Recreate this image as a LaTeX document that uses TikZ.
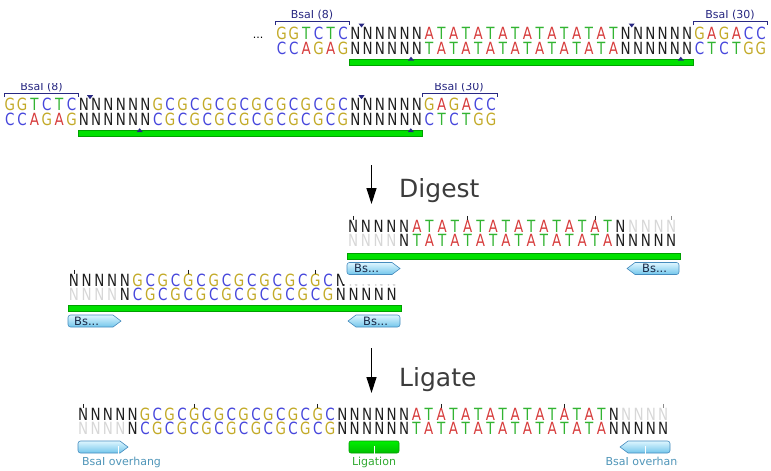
\documentclass[tikz,border=0pt]{standalone}
\usepackage{fontspec}
\setmainfont{DejaVu Sans}
\newfontfamily\seqfont[FakeStretch=0.8]{DejaVu Sans}
\usetikzlibrary{arrows.meta}
\definecolor{ntA}{RGB}{215,60,60}
\definecolor{ntT}{RGB}{50,180,50}
\definecolor{ntG}{RGB}{195,170,40}
\definecolor{ntC}{RGB}{70,70,220}
\definecolor{ntN}{RGB}{30,30,30}
\definecolor{ntn}{RGB}{215,215,215}
\definecolor{navy}{RGB}{40,40,130}
\definecolor{barfill}{RGB}{0,225,0}
\definecolor{barline}{RGB}{0,160,0}
\definecolor{anntop}{RGB}{222,246,255}
\definecolor{annbot}{RGB}{115,198,235}
\definecolor{annline}{RGB}{70,140,190}
\definecolor{anntext}{RGB}{25,40,70}
\definecolor{lblblue}{RGB}{80,150,185}
\definecolor{ligtext}{RGB}{50,170,50}
\definecolor{bigtext}{RGB}{60,60,60}
\newlength\seqpitch
\makeatletter
\def\seq@loop#1{\ifx#1\relax\else\seq@char{#1}\expandafter\seq@loop\fi}
\def\seq@char#1{\makebox[\seqpitch]{\textcolor{nt#1}{\if n#1N\else#1\fi}}}
\newcommand\seqrow[2]{\setlength\seqpitch{#1pt}\seqfont\fontsize{16.8}{19}\selectfont\seq@loop#2\relax}
\makeatother
\newcommand\annR[4]{\path[annbox] ({#3-8},#2) -- (#3,{(#2+#4)/2}) -- ({#3-8},#4) {[rounded corners=2.5pt] -- (#1,#4) -- (#1,#2)} -- cycle;}
\newcommand\annL[4]{\path[annbox] ({#1+8},#2) -- (#1,{(#2+#4)/2}) -- ({#1+8},#4) {[rounded corners=2.5pt] -- (#3,#4) -- (#3,#2)} -- cycle;}
\tikzset{
  seqrowstyle/.style={anchor=base west, inner sep=0pt, outer sep=0pt},
  seqbar/.style={fill=barfill, draw=barline, line width=0.5pt},
  brk/.style={draw=navy, line width=0.9pt},
  cutmark/.style={fill=navy},
  enzlbl/.style={text=navy, font=\fontsize{11}{13}\selectfont, inner sep=0pt},
  annbox/.style={draw=annline, line width=0.6pt, top color=anntop, bottom color=annbot},
  anntxt/.style={text=anntext, font=\fontsize{11.5}{13}\selectfont, inner sep=0pt, anchor=west},
  tk/.style={draw=ntN, line width=0.8pt},
  tkgray/.style={draw=black!45, line width=0.8pt},
  bigarrow/.style={-{Triangle[width=10pt,length=16pt]}, line width=1.3pt, draw=black},
  bigword/.style={text=bigtext, font=\fontsize{25}{30}\selectfont, anchor=base west, inner sep=0pt},
  ovl/.style={text=lblblue, font=\fontsize{11}{13}\selectfont, inner sep=0pt},
  leader/.style={draw=white, line width=1pt},
}
\begin{document}
\begin{tikzpicture}[x=1pt,y=-1pt]
\useasboundingbox (0,0) rectangle (771,471);
\fill[white] (0,0) rectangle (771,471);

% ---------- top panel: AT fragment source ----------
\node[anchor=base, inner sep=0pt] (dots) at (258,38.6) {\fontsize{11}{13}\selectfont ...};
\node[seqrowstyle] (ptop) at (275.5,39.1) {\seqrow{12.29}{GGTCTCNNNNNNATATATATATATATATNNNNNNGAGACC}};
\node[seqrowstyle] (pbot) at (275.5,54.4) {\seqrow{12.29}{CCAGAGNNNNNNTATATATATATATATANNNNNNCTCTGG}};
\draw[seqbar] (349,59.3) rectangle (693,65);
\draw[brk] (275,25) -- (275,21.7) -- (349,21.7) -- (349,25);
\draw[brk] (693,25) -- (693,21.7) -- (767,21.7) -- (767,25);
\node[enzlbl] (pe1) at (312,15) {BsaI (8)};
\node[enzlbl] (pe2) at (730,15) {BsaI (30)};
\fill[cutmark] (358.5,23.5) -- (364.5,23.5) -- (361.5,27.5) -- cycle;
\fill[cutmark] (628.7,23.5) -- (634.7,23.5) -- (631.7,27.5) -- cycle;
\fill[cutmark] (408,60.5) -- (414,60.5) -- (411,56.7) -- cycle;
\fill[cutmark] (677.8,60.5) -- (683.8,60.5) -- (680.8,56.7) -- cycle;

% ---------- middle panel: GC fragment source ----------
\node[seqrowstyle] (mtop) at (3.6,110.1) {\seqrow{12.34}{GGTCTCNNNNNNGCGCGCGCGCGCGCGCNNNNNNGAGACC}};
\node[seqrowstyle] (mbot) at (3.6,125.1) {\seqrow{12.34}{CCAGAGNNNNNNCGCGCGCGCGCGCGCGNNNNNNCTCTGG}};
\draw[seqbar] (78,130.7) rectangle (422,136.7);
\draw[brk] (4,97) -- (4,93.7) -- (78,93.7) -- (78,97);
\draw[brk] (422.5,97) -- (422.5,93.7) -- (497,93.7) -- (497,97);
\begin{scope}
\clip (0,83.5) rectangle (520,95);
\node[enzlbl] (me1) at (41.5,87.5) {BsaI (8)};
\node[enzlbl] (me2) at (459,87.5) {BsaI (30)};
\end{scope}
\fill[cutmark] (87,95.2) -- (93,95.2) -- (90,99.2) -- cycle;
\fill[cutmark] (358.5,95.2) -- (364.5,95.2) -- (361.5,99.2) -- cycle;
\fill[cutmark] (136.7,132) -- (142.7,132) -- (139.7,128.2) -- cycle;
\fill[cutmark] (407.8,132) -- (413.8,132) -- (410.8,128.2) -- cycle;

% ---------- Digest arrow ----------
\coordinate (dg1) at (371.5,165);
\coordinate (dg2) at (371.5,204);
\draw[bigarrow] (dg1) -- (dg2);
\node[bigword] (dig) at (399,197) {Digest};

% ---------- digest: left (GC) fragment ----------
\node[seqrowstyle] (ltop) at (67.6,286.6) {\seqrow{12.71}{NNNNNGCGCGCGCGCGCGCGCNnnnn}};
\node[seqrowstyle] (lbot) at (67.6,300.6) {\seqrow{12.71}{nnnnNCGCGCGCGCGCGCGCGNNNNN}};
\foreach \c in {1,10,20} \draw[tk] ({67.6+(\c-0.5)*12.71},269.8) -- ++(0,3.7);
\draw[seqbar] (68,305) rectangle (401,311);
\annR{68}{315}{121}{327}
\node[anntxt] (lb1) at (74,321) {Bs...};
\annL{348}{315}{400}{327}
\node[anntxt] (lb2) at (363,321) {Bs...};

% right fragment panel covers part of the left one
\fill[white] (343,206) rectangle (700,283.5);

% ---------- digest: right (AT) fragment ----------
\node[seqrowstyle] (rtop) at (346.9,232.6) {\seqrow{12.72}{NNNNNATATATATATATATATNnnnn}};
\node[seqrowstyle] (rbot) at (346.9,246.6) {\seqrow{12.72}{nnnnNTATATATATATATATANNNNN}};
\foreach \c in {1,10,20} \draw[tk] ({346.9+(\c-0.5)*12.72},215.8) -- ++(0,3.7);
\draw[tkgray] ({346.9+25.5*12.72},215.8) -- ++(0,3.7);
\draw[seqbar] (347,253) rectangle (680,259);
\annR{347}{262.5}{400}{274.5}
\node[anntxt] (rb1) at (354,268.5) {Bs...};
\annL{627}{262.5}{679}{274.5}
\node[anntxt] (rb2) at (642,268.5) {Bs...};

% ---------- Ligate arrow ----------
\coordinate (lg1) at (371.5,348);
\coordinate (lg2) at (371.5,393);
\draw[bigarrow] (lg1) -- (lg2);
\node[bigword] (lig) at (399,386) {Ligate};

% ---------- ligated product ----------
\node[seqrowstyle] (gtop) at (77.1,420.6) {\seqrow{12.34}{NNNNNGCGCGCGCGCGCGCGCNNNNNNATATATATATATATATNnnnn}};
\node[seqrowstyle] (gbot) at (77.1,434.6) {\seqrow{12.34}{nnnnNCGCGCGCGCGCGCGCGNNNNNNTATATATATATATATANNNNN}};
\foreach \c in {1,10,20,30,40} \draw[tk] ({77.1+(\c-0.5)*12.34},403.8) -- ++(0,3.7);
\draw[tkgray] ({77.1+47.5*12.34},403.8) -- ++(0,3.7);
\annR{78}{441}{128}{453}
\annL{620}{441}{670}{453}
\draw[draw=barline, line width=0.6pt, top color=green!45!barfill, bottom color=barfill!85!black, rounded corners=2pt] (349,441) rectangle (399,453);
\draw[leader] (118,446) -- (118,456);
\draw[leader] (645,446) -- (645,456);
\draw[leader] (374,446) -- (374,456);
\node[ovl, anchor=west] (ov1) at (82,462.5) {BsaI overhang};
\node[text=ligtext, font=\fontsize{11}{13}\selectfont, inner sep=0pt] (ligl) at (374,462.5) {Ligation};
\begin{scope}
\clip (0,455) rectangle (677,471);
\node[ovl] (ov2) at (645,462.5) {BsaI overhang};
\end{scope}
\end{tikzpicture}
\end{document}
